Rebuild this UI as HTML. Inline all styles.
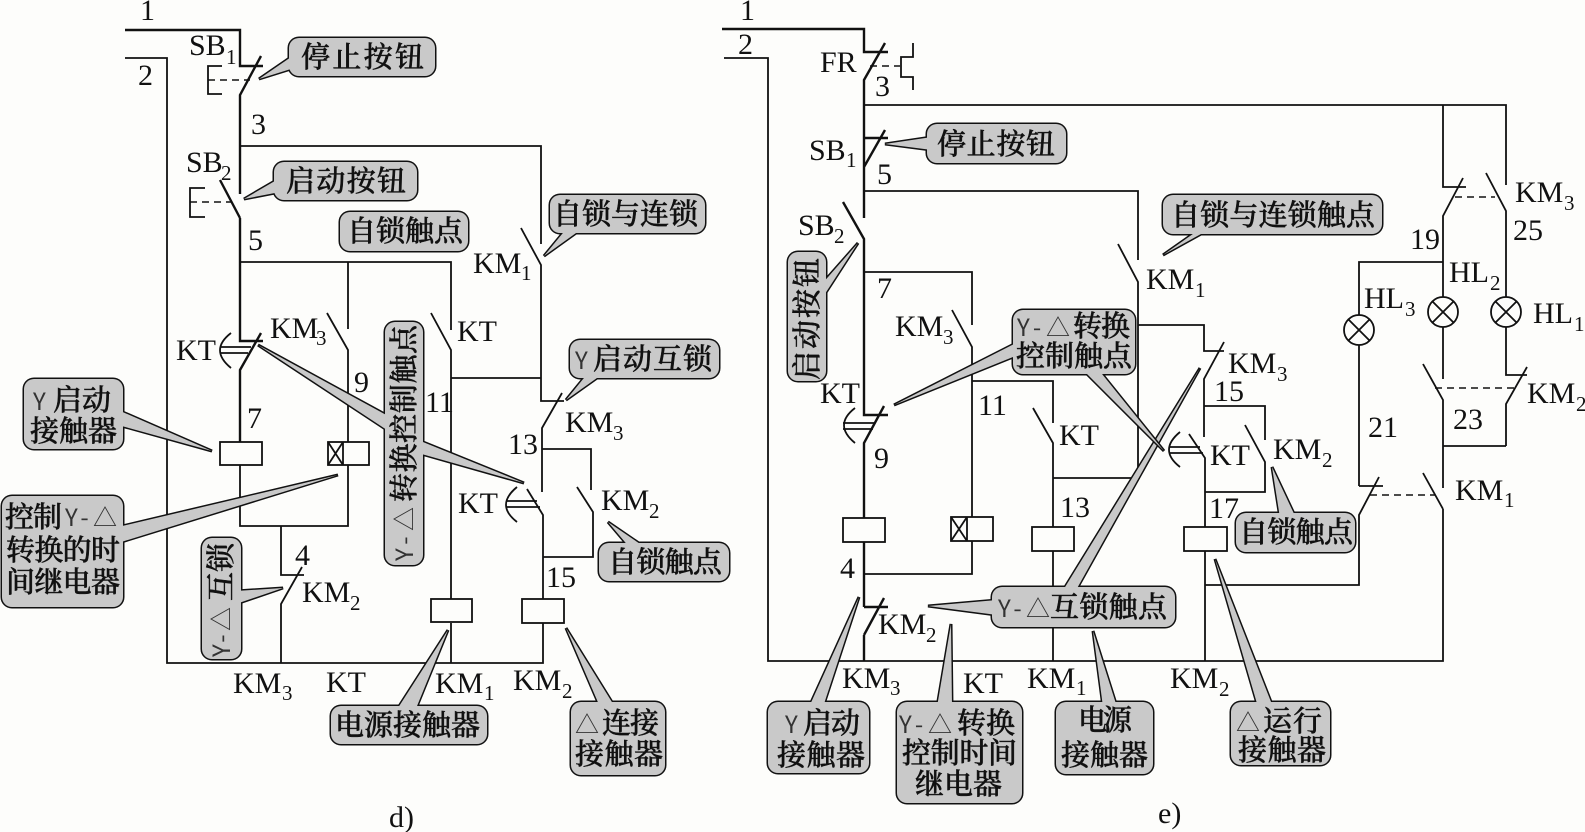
<!DOCTYPE html>
<html>
<head>
<meta charset="utf-8">
<style>
html,body{margin:0;padding:0;background:#fdfdfb;}
svg{display:block;}
.w{fill:none;stroke:#111;stroke-width:1.8;}
.h{fill:none;stroke:#111;stroke-width:2.4;}
.d{fill:none;stroke:#111;stroke-width:1.5;stroke-dasharray:7 5;}
.c{fill:#fdfdfb;stroke:#111;stroke-width:1.8;}
.s polygon,.s rect{fill:#111;stroke:#111;stroke-width:3;}
.f polygon,.f rect{fill:#c9c9c9;stroke:none;}
text{fill:#111;}
.l{font-family:"Liberation Serif",serif;font-size:30px;}
.u{font-family:"Liberation Serif",serif;font-size:21px;}
.t{font-family:"Liberation Serif","Noto Serif CJK SC",serif;font-size:29px;font-weight:500;stroke:#111;stroke-width:.5;}
.y{font-family:"Noto Sans CJK SC",sans-serif;font-size:24px;fill:#333;}
</style>
</head>
<body>
<svg width="1585" height="832" viewBox="0 0 1585 832" xmlns="http://www.w3.org/2000/svg">
<rect width="1585" height="832" fill="#fdfdfb"/>

<!-- LEFT DIAGRAM WIRES -->
<path class="h" d="M125 30H240V66H263M261 56L240 95V194M240 218V341H263M261 333L240 370V442M220 180L240 218"/>
<path class="w" d="M125 58H167V663H543V623M240 146H541V244M521 228L541 265V401H564M562 393L542 428V492M527 489L543 515V599M542 449H591V490M577 487L593 512V557H543"/>
<path class="w" d="M240 262H451V330M431 313L451 350V599M451 623V663M451 378H541"/>
<path class="w" d="M348 262V329M327 313L348 350V442M348 465V526H240V465M281 526V575H304M302 567L281 604V663"/>
<rect class="c" x="220" y="442" width="42" height="23"/>
<rect class="c" x="328" y="442" width="41" height="23"/>
<path class="w" d="M343 442V465M328 442L343 465M343 442L328 465"/>
<rect class="c" x="431" y="599" width="41" height="23"/>
<rect class="c" x="522" y="599" width="42" height="24"/>
<path class="w" d="M222 66H208V94H222"/>
<path class="d" d="M208 80H250"/>
<path class="w" d="M205 188H190V217H205"/>
<path class="d" d="M190 202H232"/>
<path class="w" d="M231 333Q209 350 231 368M220 347H251M220 353H248"/>
<path class="w" d="M517 487Q495 505 517 522M507 501H537M507 507H540"/>

<!-- RIGHT DIAGRAM WIRES -->
<path class="h" d="M722 29H864V52H888M885 43L864 80V218M843 202L864 239V415H888M884 406L864 443V518M864 542V607M864 635V661M864 138H888M885 130L864 167M888 607H864M884 598L864 635"/>
<path class="w" d="M724 58H768V661H1443V509M864 105H1506V185M864 191H1138V260M1118 244L1138 282V478M1138 325H1204V351H1224M1224 342L1204 379V437M1189 434L1205 458V527M1205 551V661M1204 406H1265V440M1245 425L1265 462V492H1205M1205 585H1359V515L1379 477M1359 486H1383M1359 486V345M1359 315V262H1443"/>
<path class="w" d="M1443 105V187H1466M1463 178L1443 216V297M1443 327V379M1423 364L1443 400V488M1423 473L1443 509M1443 446H1506M1486 173L1506 211V297M1506 327V375H1527M1527 367L1506 404V446"/>
<path class="w" d="M864 272H972V325M952 310L972 347V517M972 541V574H864M972 381H1053V423M1033 408L1053 443V527M1053 551V661M1053 478H1140"/>
<path class="d" d="M1455 197H1495M1435 388H1515M1370 495H1435M870 66H900"/>
<path class="w" d="M913 43V57H901V77H913V90"/>
<rect class="c" x="843" y="518" width="42" height="24"/>
<rect class="c" x="951" y="517" width="42" height="24"/>
<path class="w" d="M967 517V541M951 517L967 541M967 517L951 541"/>
<rect class="c" x="1032" y="527" width="42" height="24"/>
<rect class="c" x="1184" y="527" width="43" height="24"/>
<path class="w" d="M855 408Q833 425 855 443M843 423H875M843 429H873"/>
<path class="w" d="M1180 432Q1158 450 1180 467M1170 447H1200M1170 453H1203"/>
<g class="c">
<circle cx="1359" cy="330" r="15"/><circle cx="1443" cy="312" r="15"/><circle cx="1506" cy="312" r="15"/>
</g>
<path class="w" d="M1348 319L1370 341M1370 319L1348 341M1432 301L1454 323M1454 301L1432 323M1495 301L1517 323M1517 301L1495 323"/>

<!-- LEFT CALLOUTS -->
<g class="s"><polygon points="259,79 294,55 294,68"/><rect x="289" y="38" width="146" height="38" rx="10"/></g>
<g class="f"><polygon points="259,79 294,55 294,68"/><rect x="289" y="38" width="146" height="38" rx="10"/></g>
<g class="s"><polygon points="244,199 280,178 280,192"/><rect x="274" y="162" width="143" height="38" rx="10"/></g>
<g class="f"><polygon points="244,199 280,178 280,192"/><rect x="274" y="162" width="143" height="38" rx="10"/></g>
<g class="s"><rect x="340" y="212" width="128" height="39" rx="10"/></g>
<g class="f"><rect x="340" y="212" width="128" height="39" rx="10"/></g>
<g class="s"><polygon points="544,256 567,228 583,228"/><rect x="550" y="195" width="155" height="38" rx="10"/></g>
<g class="f"><polygon points="544,256 567,228 583,228"/><rect x="550" y="195" width="155" height="38" rx="10"/></g>
<g class="s"><polygon points="566,400 588,373 604,373"/><rect x="570" y="340" width="149" height="38" rx="10"/></g>
<g class="f"><polygon points="566,400 588,373 604,373"/><rect x="570" y="340" width="149" height="38" rx="10"/></g>
<g class="s"><polygon points="524,483 418,440 418,453"/><polygon points="258,345 390,417 390,432"/><rect x="385" y="322" width="38" height="243" rx="10"/></g>
<g class="f"><polygon points="524,483 418,440 418,453"/><polygon points="258,345 390,417 390,432"/><rect x="385" y="322" width="38" height="243" rx="10"/></g>
<g class="s"><polygon points="212,451 118,410 118,425"/><rect x="24" y="379" width="99" height="70" rx="10"/></g>
<g class="f"><polygon points="212,451 118,410 118,425"/><rect x="24" y="379" width="99" height="70" rx="10"/></g>
<g class="s"><polygon points="338,475 118,527 118,543"/><rect x="2" y="496" width="121" height="111" rx="10"/></g>
<g class="f"><polygon points="338,475 118,527 118,543"/><rect x="2" y="496" width="121" height="111" rx="10"/></g>
<g class="s"><polygon points="283,588 236,591 236,604"/><rect x="202" y="538" width="39" height="121" rx="10"/></g>
<g class="f"><polygon points="283,588 236,591 236,604"/><rect x="202" y="538" width="39" height="121" rx="10"/></g>
<g class="s"><polygon points="608,522 630,548 646,548"/><rect x="599" y="543" width="130" height="38" rx="10"/></g>
<g class="f"><polygon points="608,522 630,548 646,548"/><rect x="599" y="543" width="130" height="38" rx="10"/></g>
<g class="s"><polygon points="448,630 396,711 415,711"/><rect x="331" y="706" width="156" height="38" rx="10"/></g>
<g class="f"><polygon points="448,630 396,711 415,711"/><rect x="331" y="706" width="156" height="38" rx="10"/></g>
<g class="s"><polygon points="566,628 600,707 615,707"/><rect x="571" y="702" width="94" height="73" rx="10"/></g>
<g class="f"><polygon points="566,628 600,707 615,707"/><rect x="571" y="702" width="94" height="73" rx="10"/></g>

<!-- RIGHT CALLOUTS -->
<g class="s"><polygon points="885,144 932,137 932,150"/><rect x="927" y="124" width="139" height="39" rx="10"/></g>
<g class="f"><polygon points="885,144 932,137 932,150"/><rect x="927" y="124" width="139" height="39" rx="10"/></g>
<g class="s"><polygon points="858,243 821,285 821,300"/><rect x="788" y="252" width="38" height="129" rx="10"/></g>
<g class="f"><polygon points="858,243 821,285 821,300"/><rect x="788" y="252" width="38" height="129" rx="10"/></g>
<g class="s"><polygon points="1163,255 1200,229 1210,229"/><rect x="1163" y="195" width="219" height="39" rx="10"/></g>
<g class="f"><polygon points="1163,255 1200,229 1210,229"/><rect x="1163" y="195" width="219" height="39" rx="10"/></g>
<g class="s"><polygon points="1272,467 1280,518 1296,518"/><rect x="1236" y="513" width="119" height="39" rx="10"/></g>
<g class="f"><polygon points="1272,467 1280,518 1296,518"/><rect x="1236" y="513" width="119" height="39" rx="10"/></g>
<g class="s"><polygon points="928,606 997,600 997,615"/><polygon points="1200,368 1062,592 1075,592"/><rect x="992" y="587" width="183" height="40" rx="10"/></g>
<g class="f"><polygon points="928,606 997,600 997,615"/><polygon points="1200,368 1062,592 1075,592"/><rect x="992" y="587" width="183" height="40" rx="10"/></g>
<g class="s"><polygon points="894,405 1018,342 1018,355"/><polygon points="1164,451 1082,369 1098,369"/><rect x="1013" y="310" width="122" height="64" rx="10"/></g>
<g class="f"><polygon points="894,405 1018,342 1018,355"/><polygon points="1164,451 1082,369 1098,369"/><rect x="1013" y="310" width="122" height="64" rx="10"/></g>
<g class="s"><polygon points="859,597 809,707 823,707"/><rect x="768" y="702" width="101" height="71" rx="10"/></g>
<g class="f"><polygon points="859,597 809,707 823,707"/><rect x="768" y="702" width="101" height="71" rx="10"/></g>
<g class="s"><polygon points="951,624 937,707 952,707"/><rect x="897" y="702" width="125" height="101" rx="10"/></g>
<g class="f"><polygon points="951,624 937,707 952,707"/><rect x="897" y="702" width="125" height="101" rx="10"/></g>
<g class="s"><polygon points="1093,631 1103,707 1117,707"/><rect x="1056" y="702" width="97" height="72" rx="10"/></g>
<g class="f"><polygon points="1093,631 1103,707 1117,707"/><rect x="1056" y="702" width="97" height="72" rx="10"/></g>
<g class="s"><polygon points="1215,559 1258,707 1273,707"/><rect x="1231" y="702" width="99" height="63" rx="10"/></g>
<g class="f"><polygon points="1215,559 1258,707 1273,707"/><rect x="1231" y="702" width="99" height="63" rx="10"/></g>

<!-- CALLOUT TEXT LEFT -->
<text class="t" x="301" y="67" textLength="123">停止按钮</text>
<text class="t" x="286" y="191" textLength="120">启动按钮</text>
<text class="t" x="347" y="241" textLength="116">自锁触点</text>
<text class="t" x="553" y="224" textLength="145">自锁与连锁</text>
<text class="y" x="575" y="369">Y</text>
<text class="t" x="593" y="369" textLength="119">启动互锁</text>
<text class="t" transform="translate(414,502) rotate(-90)" textLength="177">转换控制触点</text>
<text class="y" transform="translate(413,561) rotate(-90)" textLength="54">Y-△</text>
<text class="y" x="33" y="410">Y</text>
<text class="t" x="53" y="410" textLength="58">启动</text>
<text class="t" x="30" y="441" textLength="87">接触器</text>
<text class="t" x="5" y="527" textLength="57">控制</text>
<text class="y" x="65" y="526" textLength="52">Y-△</text>
<text class="t" x="6" y="560" textLength="114">转换的时</text>
<text class="t" x="6" y="592" textLength="114">间继电器</text>
<text class="t" transform="translate(231,601) rotate(-90)" textLength="58">互锁</text>
<text class="y" transform="translate(230,657) rotate(-90)" textLength="50">Y-△</text>
<text class="t" x="608" y="572" textLength="114">自锁触点</text>
<text class="t" x="335" y="735" textLength="145">电源接触器</text>
<text class="y" x="575" y="733">△</text>
<text class="t" x="602" y="733" textLength="57">连接</text>
<text class="t" x="575" y="764" textLength="88">接触器</text>

<!-- CALLOUT TEXT RIGHT -->
<text class="t" x="937" y="154" textLength="118">停止按钮</text>
<text class="t" transform="translate(817,380) rotate(-90)" textLength="122">启动按钮</text>
<text class="y" x="1017" y="336" textLength="53">Y-△</text>
<text class="t" x="1073" y="336" textLength="57">转换</text>
<text class="t" x="1016" y="366" textLength="116">控制触点</text>
<text class="t" x="1171" y="225" textLength="204">自锁与连锁触点</text>
<text class="t" x="1239" y="542" textLength="114">自锁触点</text>
<text class="y" x="998" y="617" textLength="52">Y-△</text>
<text class="t" x="1050" y="617" textLength="117">互锁触点</text>
<text class="y" x="785" y="733">Y</text>
<text class="t" x="803" y="733" textLength="57">启动</text>
<text class="t" x="777" y="765" textLength="88">接触器</text>
<text class="y" x="899" y="733" textLength="53">Y-△</text>
<text class="t" x="957" y="733" textLength="58">转换</text>
<text class="t" x="902" y="763" textLength="115">控制时间</text>
<text class="t" x="915" y="794" textLength="87">继电器</text>
<text class="t" x="1078" y="730" textLength="54">电源</text>
<text class="t" x="1061" y="765" textLength="87">接触器</text>
<text class="y" x="1236" y="731">△</text>
<text class="t" x="1263" y="731" textLength="59">运行</text>
<text class="t" x="1238" y="760" textLength="88">接触器</text>

<!-- LABELS LEFT -->
<text class="l" x="140" y="20">1</text>
<text class="l" x="138" y="85">2</text>
<text class="l" x="189" y="55">SB</text><text class="u" x="226" y="64">1</text>
<text class="l" x="251" y="134">3</text>
<text class="l" x="186" y="172">SB</text><text class="u" x="221" y="180">2</text>
<text class="l" x="248" y="250">5</text>
<text class="l" x="270" y="338">KM</text><text class="u" x="316" y="345">3</text>
<text class="l" x="176" y="360">KT</text>
<text class="l" x="354" y="392">9</text>
<text class="l" x="247" y="428">7</text>
<text class="l" x="295" y="565">4</text>
<text class="l" x="302" y="602">KM</text><text class="u" x="350" y="610">2</text>
<text class="l" x="233" y="693">KM</text><text class="u" x="282" y="700">3</text>
<text class="l" x="326" y="692">KT</text>
<text class="l" x="435" y="693">KM</text><text class="u" x="484" y="700">1</text>
<text class="l" x="513" y="690">KM</text><text class="u" x="562" y="698">2</text>
<text class="l" x="546" y="587">15</text>
<text class="l" x="458" y="513">KT</text>
<text class="l" x="601" y="510">KM</text><text class="u" x="649" y="518">2</text>
<text class="l" x="508" y="454">13</text>
<text class="l" x="565" y="432">KM</text><text class="u" x="613" y="440">3</text>
<text class="l" x="425" y="412">11</text>
<text class="l" x="457" y="341">KT</text>
<text class="l" x="473" y="273">KM</text><text class="u" x="521" y="280">1</text>
<text class="l" x="389" y="827">d)</text>

<!-- LABELS RIGHT -->
<text class="l" x="740" y="20">1</text>
<text class="l" x="738" y="54">2</text>
<text class="l" x="820" y="72">FR</text>
<text class="l" x="875" y="96">3</text>
<text class="l" x="809" y="160">SB</text><text class="u" x="846" y="167">1</text>
<text class="l" x="877" y="184">5</text>
<text class="l" x="798" y="235">SB</text><text class="u" x="834" y="243">2</text>
<text class="l" x="877" y="298">7</text>
<text class="l" x="895" y="336">KM</text><text class="u" x="943" y="344">3</text>
<text class="l" x="820" y="403">KT</text>
<text class="l" x="978" y="415">11</text>
<text class="l" x="874" y="468">9</text>
<text class="l" x="840" y="578">4</text>
<text class="l" x="878" y="634">KM</text><text class="u" x="926" y="642">2</text>
<text class="l" x="842" y="688">KM</text><text class="u" x="890" y="695">3</text>
<text class="l" x="963" y="693">KT</text>
<text class="l" x="1027" y="688">KM</text><text class="u" x="1076" y="695">1</text>
<text class="l" x="1060" y="517">13</text>
<text class="l" x="1059" y="445">KT</text>
<text class="l" x="1170" y="688">KM</text><text class="u" x="1219" y="696">2</text>
<text class="l" x="1158" y="823">e)</text>
<text class="l" x="1214" y="401">15</text>
<text class="l" x="1228" y="373">KM</text><text class="u" x="1277" y="381">3</text>
<text class="l" x="1210" y="465">KT</text>
<text class="l" x="1273" y="459">KM</text><text class="u" x="1322" y="467">2</text>
<text class="l" x="1209" y="518">17</text>
<text class="l" x="1146" y="289">KM</text><text class="u" x="1195" y="297">1</text>
<text class="l" x="1515" y="202">KM</text><text class="u" x="1564" y="210">3</text>
<text class="l" x="1513" y="240">25</text>
<text class="l" x="1410" y="249">19</text>
<text class="l" x="1449" y="282">HL</text><text class="u" x="1490" y="290">2</text>
<text class="l" x="1364" y="308">HL</text><text class="u" x="1405" y="316">3</text>
<text class="l" x="1533" y="323">HL</text><text class="u" x="1574" y="331">1</text>
<text class="l" x="1527" y="403">KM</text><text class="u" x="1576" y="411">2</text>
<text class="l" x="1368" y="437">21</text>
<text class="l" x="1453" y="429">23</text>
<text class="l" x="1455" y="500">KM</text><text class="u" x="1504" y="507">1</text>
</svg>
</body>
</html>
